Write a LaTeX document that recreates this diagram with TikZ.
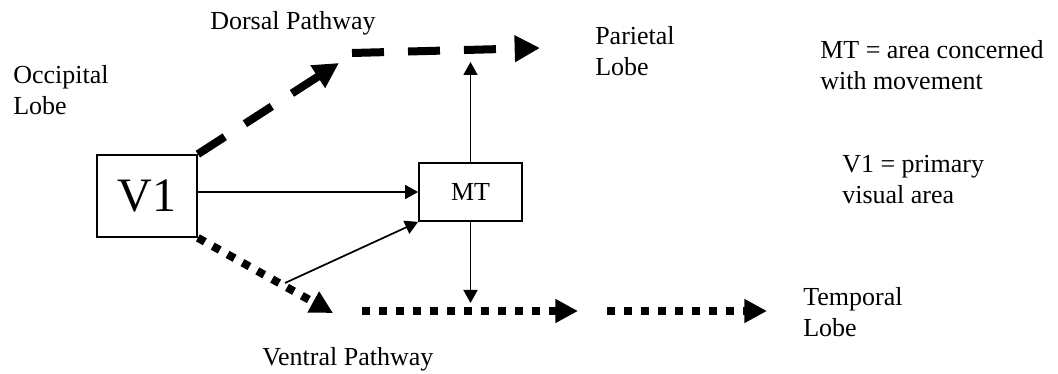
\documentclass[tikz,border=0pt]{standalone}
\usepackage{fontspec}
\setmainfont{Liberation Serif}
\usetikzlibrary{arrows.meta}
\tikzset{
 box/.style={draw, line width=1.3pt, inner sep=0pt},
 lbl/.style={anchor=base west, inner sep=0pt, align=left, font=\fontsize{19.5}{23.3}\selectfont},
 thinarrow/.style={line width=1.3pt, -{Triangle[length=9.75pt,width=10.5pt]}},
 dorsal/.style={line width=6pt, dash pattern=on 24pt off 18pt, -{Triangle[length=19pt,width=19pt]}},
 ventral/.style={line width=6pt, dash pattern=on 6pt off 6.75pt, -{Triangle[length=17pt,width=17pt]}},
}
\begin{document}
\begin{tikzpicture}[x=0.75pt,y=-0.75pt]
\useasboundingbox (0,0) rectangle (1058,374);
\node[box, minimum width=75pt, minimum height=61.5pt, font=\fontsize{36}{40}\selectfont] (v1) at (147,196) {V1};
\node[box, minimum width=77.25pt, minimum height=43.5pt, font=\fontsize{19.5}{23.3}\selectfont] (mt) at (470.5,192) {MT};
\coordinate (ptop) at (470.5,62);
\coordinate (pbot) at (470.5,303);
\coordinate (dtip1) at (339,63);
\coordinate (d2s) at (352,53);
\coordinate (d2e) at (540,48);
\coordinate (vtip1) at (333,313);
\coordinate (v2s) at (362,311);
\coordinate (v2e) at (578,311);
\coordinate (v3s) at (607,311);
\coordinate (v3e) at (767,311);
\coordinate (diag) at (285,283);
\draw[thinarrow] (v1.east |- mt.west) -- (mt.west);
\draw[thinarrow] (mt.north) -- (ptop);
\draw[thinarrow] (mt.south) -- (pbot);
\draw[thinarrow] (diag) -- (mt.south west);
\draw[dorsal] (v1.north east) -- (dtip1);
\draw[dorsal] (d2s) -- (d2e);
\draw[ventral] (v1.south east) -- (vtip1);
\draw[ventral] (v2s) -- (v2e);
\draw[ventral] (v3s) -- (v3e);
\node[lbl] (occ) at (13,115) {Occipital\\Lobe};
\node[lbl] (dors) at (210,30) {Dorsal Pathway};
\node[lbl] (par) at (595,76) {Parietal\\Lobe};
\node[lbl] (mtdef) at (820,90) {MT = area concerned\\with movement};
\node[lbl] (v1def) at (842,204) {V1 = primary\\visual area};
\node[lbl] (temp) at (803,337) {Temporal\\Lobe};
\node[lbl] (vent) at (262,365) {Ventral Pathway};
\end{tikzpicture}
\end{document}
